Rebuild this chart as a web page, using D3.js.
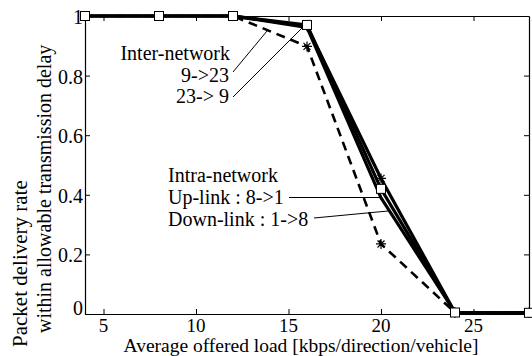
<!DOCTYPE html>
<html>
<head>
<meta charset="utf-8">
<script src="https://cdn.jsdelivr.net/npm/d3@7"></script>
<style>
  html, body { margin: 0; padding: 0; background: #fff; }
  svg { display: block; }
</style>
</head>
<body>
<svg id="chart" width="532" height="356"></svg>
<script>
// Offered load per vehicle (kbps/direction/vehicle)
const loads = [4, 8, 12, 16, 20, 24, 28];

// Packet delivery rate within the allowable transmission delay
const inter9to23    = [1, 1, 1, 0.898, 0.235, 0.005, 0.004];
const inter23to9    = [1, 1, 1, 0.970, 0.420, 0.005, 0.004];
const intraUplink   = [1, 1, 1, 0.966, 0.455, 0.005, 0.004];
const intraDownlink = [1, 1, 1, 0.962, 0.390, 0.005, 0.004];

const xTicks = [5, 10, 15, 20, 25];
const yTicks = [0, 0.2, 0.4, 0.6, 0.8, 1];

const series = [
  { name: "Down-link : 1->8", values: intraDownlink, dash: null, marker: null },
  { name: "Up-link : 8->1", values: intraUplink, dash: null, marker: "star" },
  { name: "9->23", values: inter9to23, dash: "9,6", marker: "star" },
  { name: "23-> 9", values: inter23to9, dash: null, marker: "square" }
];

const FONT = "'Liberation Serif', 'Times New Roman', serif";
const svg = d3.select("#chart").attr("font-family", FONT);
const x = d3.scaleLinear().domain([4, 28]).range([85, 529]);
const y = d3.scaleLinear().domain([0, 1]).range([314, 16]);

const fs = 20;

// Box frame with inward ticks on all four sides
const g = svg.append("g");
g.append("g").attr("transform", `translate(0,${y(0)})`)
  .call(d3.axisBottom(x).tickValues(xTicks).tickSizeInner(-5).tickSizeOuter(0).tickFormat(""));
g.append("g").attr("transform", `translate(0,${y(1)})`)
  .call(d3.axisTop(x).tickValues(xTicks).tickSizeInner(-5).tickSizeOuter(0).tickFormat(""));
g.append("g").attr("transform", `translate(${x(4)},0)`)
  .call(d3.axisLeft(y).tickValues(yTicks).tickSizeInner(-5).tickSizeOuter(0).tickFormat(""));
g.append("g").attr("transform", `translate(${x(28)},0)`)
  .call(d3.axisRight(y).tickValues(yTicks).tickSizeInner(-5).tickSizeOuter(0).tickFormat(""));
g.selectAll(".domain").attr("stroke", "#000").attr("stroke-width", 1.2);
g.selectAll(".tick line").attr("stroke", "#000").attr("stroke-width", 1);

// Tick labels
svg.append("g").selectAll("text").data(xTicks).join("text")
  .attr("font-family", FONT)
  .attr("x", d => x(d)).attr("y", 332)
  .attr("text-anchor", "middle").attr("font-size", 19)
  .text(d => d);
svg.append("g").selectAll("text").data(yTicks).join("text")
  .attr("font-family", FONT)
  .attr("x", 83).attr("y", d => d === 0 ? y(d) + 1 : y(d) + 8)
  .attr("text-anchor", "end").attr("font-size", fs)
  .text(d => d3.format("~g")(d));

// Axis titles
svg.append("text").attr("font-family", FONT).attr("x", 301).attr("y", 351.7)
  .attr("text-anchor", "middle").attr("font-size", 19.5)
  .text("Average offered load [kbps/direction/vehicle]");
svg.append("text").attr("font-family", FONT).attr("transform", "translate(27,347) rotate(-90)")
  .attr("text-anchor", "start").attr("font-size", 21)
  .text("Packet delivery rate");
svg.append("text").attr("font-family", FONT).attr("transform", "translate(51,333) rotate(-90)")
  .attr("text-anchor", "start").attr("font-size", fs)
  .text("within allowable transmission delay");

// Curves
const line = d3.line().x((d, i) => x(loads[i])).y(d => y(d));
const plot = svg.append("g");
series.forEach(s => {
  plot.append("path").datum(s.values)
    .attr("d", line).attr("fill", "none").attr("stroke", "#000")
    .attr("stroke-width", s.dash ? 2.6 : 3.2)
    .attr("stroke-linejoin", "miter")
    .attr("stroke-dasharray", s.dash);
});

// Markers
series.forEach(s => {
  if (!s.marker) return;
  const pts = s.values.map((v, i) => [x(loads[i]), y(v)]);
  if (s.marker === "square") {
    plot.append("g").selectAll("rect").data(pts).join("rect")
      .attr("x", d => d[0] - 4.5).attr("y", d => d[1] - 4.5)
      .attr("width", 9).attr("height", 9)
      .attr("fill", "#fff").attr("stroke", "#000").attr("stroke-width", 1);
  } else {
    const r = 5;
    plot.append("g").selectAll("path").data(pts).join("path")
      .attr("d", d => `M${d[0]-r},${d[1]}H${d[0]+r}M${d[0]},${d[1]-r}V${d[1]+r}` +
        `M${d[0]-r*0.7},${d[1]-r*0.7}L${d[0]+r*0.7},${d[1]+r*0.7}` +
        `M${d[0]-r*0.7},${d[1]+r*0.7}L${d[0]+r*0.7},${d[1]-r*0.7}`)
      .attr("stroke", "#000").attr("stroke-width", 1.2).attr("fill", "none");
  }
});

// Annotations with leader lines
const ann = svg.append("g").attr("font-family", FONT);
const afs = 20;
ann.append("text").attr("x", 230).attr("y", 60).attr("text-anchor", "end").attr("font-size", afs).text("Inter-network");
ann.append("text").attr("x", 229).attr("y", 82).attr("text-anchor", "end").attr("font-size", afs).text("9->23");
ann.append("text").attr("x", 229).attr("y", 103).attr("text-anchor", "end").attr("font-size", afs).text("23-> 9");
ann.append("text").attr("x", 168).attr("y", 182).attr("font-size", afs).text("Intra-network");
ann.append("text").attr("x", 168).attr("y", 204).attr("font-size", afs).text("Up-link : 8->1");
ann.append("text").attr("x", 168).attr("y", 226).attr("font-size", afs).text("Down-link : 1->8");

const leaders = [
  [233, 72, 267, 31],
  [233, 97, 303, 27],
  [289, 197.5, 381, 197.5],
  [314, 218, 388, 211]
];
ann.selectAll("line").data(leaders).join("line")
  .attr("x1", d => d[0]).attr("y1", d => d[1]).attr("x2", d => d[2]).attr("y2", d => d[3])
  .attr("stroke", "#000").attr("stroke-width", 1);
</script>
</body>
</html>
